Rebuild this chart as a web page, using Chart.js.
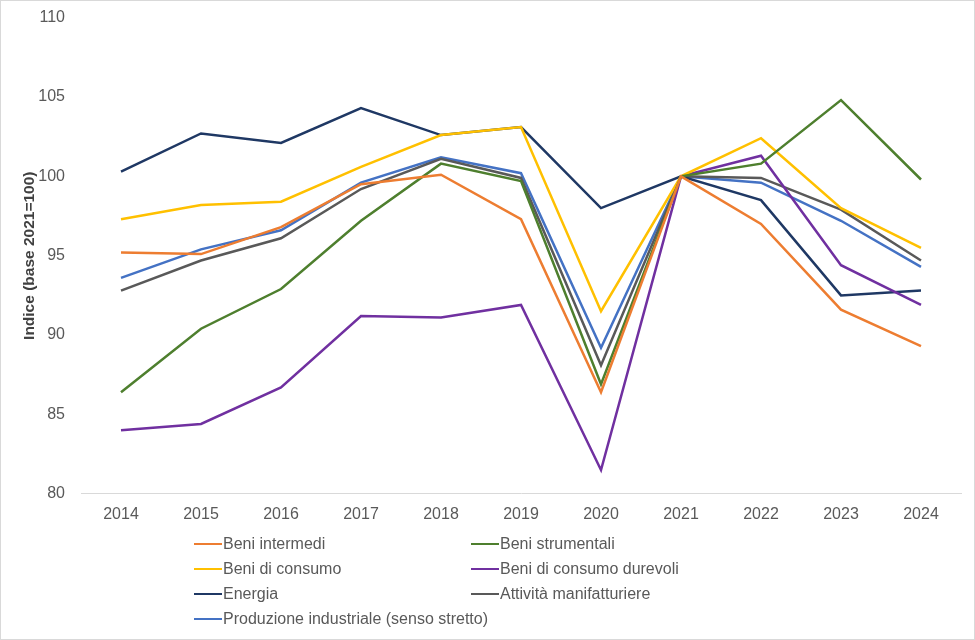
<!DOCTYPE html>
<html>
<head>
<meta charset="utf-8">
<script src="https://cdn.jsdelivr.net/npm/chart.js@4/dist/chart.umd.min.js"></script>
<style>
  html, body { margin: 0; padding: 0; background: #fff; }
  #wrap { position: relative; width: 975px; height: 640px; box-sizing: border-box; border: 1px solid #d9d9d9; overflow: hidden; }
  #chart { position: absolute; left: 0; top: -1px; }
  #legend { position: absolute; left: 193px; top: 533px; display: grid; grid-template-columns: 277px 320px; row-gap: 6px;
            font-family: "Liberation Sans", Arial, sans-serif; font-size: 16px; color: #595959; }
  .item { display: flex; align-items: center; height: 19px; white-space: nowrap; }
  .swatch { width: 28px; height: 2px; margin-right: 1px; flex-shrink: 0; }
</style>
</head>
<body>
<div id="wrap">
  <canvas id="chart" width="975" height="647"></canvas>
  <div id="legend"></div>
</div>
<script>
//years
let years = ["2014", "2015", "2016", "2017", "2018", "2019", "2020", "2021", "2022", "2023", "2024"]

//series (indice, base 2021=100)
let seriesNames = ["Beni intermedi", "Beni strumentali", "Beni di consumo", "Beni di consumo durevoli",
    "Energia", "Attività manifatturiere", "Produzione industriale (senso stretto)"]
let beniIntermedi = [95.2, 95.1, 96.8, 99.5, 100.1, 97.3, 86.4, 100, 97.0, 91.6, 89.3]
let beniStrumentali = [86.4, 90.4, 92.9, 97.2, 100.8, 99.7, 86.9, 100, 100.8, 104.8, 99.8]
let beniConsumo = [97.3, 98.2, 98.4, 100.6, 102.6, 103.1, 91.5, 100, 102.4, 98.0, 95.5]
let beniDurevoli = [84.0, 84.4, 86.7, 91.2, 91.1, 91.9, 81.5, 100, 101.3, 94.4, 91.9]
let energia = [100.3, 102.7, 102.1, 104.3, 102.6, 103.1, 98.0, 100, 98.5, 92.5, 92.8]
let manifatturiere = [92.8, 94.7, 96.1, 99.2, 101.1, 99.9, 88.1, 100, 99.9, 97.9, 94.7]
let produzione = [93.6, 95.4, 96.6, 99.6, 101.2, 100.2, 89.2, 100, 99.6, 97.2, 94.3]

let allData = [beniIntermedi, beniStrumentali, beniConsumo, beniDurevoli, energia, manifatturiere, produzione]
let colors = ["#ED7D31", "#4E7F2E", "#FFC000", "#7030A0", "#1F3864", "#595959", "#4472C4"]

let datasets = seriesNames.map(function (name, i) {
    return {
        label: name,
        data: allData[i],
        borderColor: colors[i],
        backgroundColor: colors[i],
        borderWidth: 2.5,
        pointRadius: 0,
        tension: 0,
        fill: false
    }
})

let font = { family: "'Liberation Sans', Arial, sans-serif", size: 16 }

let myChart = document.getElementById("chart").getContext("2d")
let chart = new Chart(myChart, {
    type: "line",
    data: {
        labels: years,
        datasets: datasets
    },
    options: {
        responsive: false,
        animation: false,
        layout: { padding: { left: 19, right: 15, top: 1, bottom: 120 } },
        plugins: {
            legend: { display: false },
            tooltip: { enabled: false }
        },
        scales: {
            x: {
                offset: true,
                grid: { display: false },
                border: { color: "#d9d9d9", width: 1 },
                ticks: { color: "#595959", font: font, padding: 3, maxRotation: 0 }
            },
            y: {
                min: 80,
                max: 110,
                afterFit: function (s) { s.width = 61 },
                grid: { display: false },
                border: { display: false },
                ticks: { stepSize: 5, color: "#595959", font: font, padding: 8 },
                title: {
                    display: true,
                    text: "Indice (base 2021=100)",
                    color: "#404040",
                    font: { family: font.family, size: 15.5, weight: "bold" },
                    padding: { top: 0, bottom: 0 }
                }
            }
        }
    }
})

//html legend in two columns
let legendBox = document.getElementById("legend")
seriesNames.forEach(function (name, i) {
    let item = document.createElement("div")
    item.className = "item"
    let sw = document.createElement("span")
    sw.className = "swatch"
    sw.style.background = colors[i]
    item.appendChild(sw)
    item.appendChild(document.createTextNode(name))
    legendBox.appendChild(item)
})
</script>
</body>
</html>
